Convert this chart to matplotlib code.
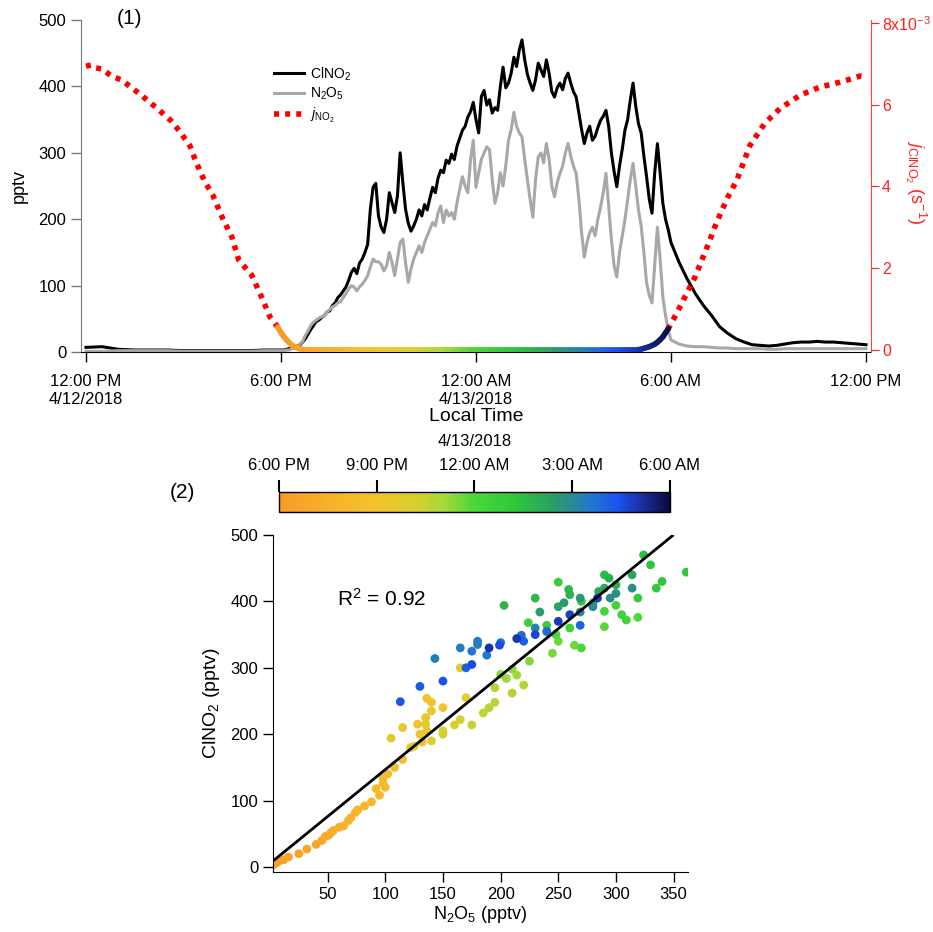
import numpy as np
import matplotlib.pyplot as plt
from matplotlib.collections import LineCollection
from matplotlib.colors import LinearSegmentedColormap, Normalize
from matplotlib.cm import ScalarMappable

plt.rcParams['font.family'] = ['Liberation Sans', 'DejaVu Sans']
plt.rcParams['mathtext.fontset'] = 'custom'
plt.rcParams['mathtext.rm'] = 'Liberation Sans'
plt.rcParams['mathtext.it'] = 'Liberation Sans:italic'
plt.rcParams['mathtext.bf'] = 'Liberation Sans:bold'

# time is in hours since 12:00 PM 4/12/2018
t_afternoon = np.arange(0, 6, 0.5)
t_night = 6 + np.arange(145) / 12.0      # 5 min steps, 6 PM - 6 AM
t_morning = 18 + np.arange(1, 25) * 0.25

clno2_afternoon = [7, 8, 4, 3, 3, 3, 2, 2, 2, 2, 2, 3]
n2o5_afternoon = [1, 1, 2, 2, 2, 2, 1, 1, 1, 1, 1, 2]

clno2_night = [
    3, 3, 4, 5, 6, 7, 9, 11, 15, 20, 27, 34,
    40, 46, 48, 52, 55, 60, 62, 70, 74, 82, 86, 92,
    98, 108, 120, 126, 118, 134, 140, 150, 162, 215, 248, 254,
    205, 188, 180, 200, 240, 225, 210, 235, 300, 255, 215, 194,
    182, 190, 200, 214, 205, 222, 214, 232, 248, 240, 262, 274,
    270, 289, 284, 298, 290, 310, 322, 334, 340, 354, 362, 376,
    350, 330, 385, 394, 372, 380, 360, 368, 364, 400, 429, 398,
    405, 420, 444, 430, 455, 470, 440, 418, 405, 394, 410, 435,
    425, 415, 440, 420, 392, 384, 398, 405, 395, 412, 420, 405,
    392, 384, 360, 335, 314, 330, 340, 319, 325, 338, 349, 355,
    364, 340, 300, 272, 249, 280, 305, 334, 350, 380, 405, 370,
    344, 330, 295, 264, 230, 209, 270, 314, 270, 224, 200, 184,
    165,
]
n2o5_night = [
    2, 2, 3, 3, 5, 6, 8, 12, 16, 25, 32, 40,
    45, 48, 51, 53, 55, 60, 64, 68, 70, 74, 76, 82,
    88, 95, 100, 98, 92, 98, 102, 108, 115, 128, 140, 136,
    136, 132, 122, 130, 150, 135, 115, 140, 165, 170, 135, 105,
    125, 140, 150, 160, 150, 165, 175, 185, 195, 190, 210, 220,
    195, 214, 205, 210, 200, 225, 245, 264, 250, 240, 290, 319,
    248, 270, 290, 300, 309, 305, 260, 224, 240, 270, 250, 280,
    319, 335, 361, 340, 330, 324, 290, 259, 230, 203, 260, 294,
    300, 285, 314, 290, 250, 234, 255, 269, 280, 300, 314, 295,
    280, 269, 230, 180, 143, 165, 180, 188, 175, 200, 218, 240,
    269, 220, 170, 130, 113, 150, 175, 199, 230, 260, 284, 250,
    214, 190, 150, 104, 85, 74, 130, 188, 140, 83, 55, 33,
    18,
]
clno2_morning = [135, 110, 88, 70, 55, 38, 28, 20, 15, 11, 10, 9,
                 10, 12, 14, 15, 15, 16, 15, 15, 14, 13, 12, 11]
n2o5_morning = [12, 9, 8, 8, 7, 6, 6, 5, 5, 5, 5, 4,
                4, 5, 5, 5, 5, 5, 5, 5, 5, 5, 5, 5]

# j values in 1e-3 s^-1
t_j_afternoon = [0, 0.15, 0.3, 0.5, 0.7, 0.85, 1.1, 1.35, 1.75, 2.2, 2.6, 2.9,
                 3.2, 3.4, 3.66, 3.9, 4.2, 4.5, 4.7, 4.83, 5.1, 5.35, 5.66, 5.9]
j_afternoon = [6.94, 6.97, 6.9, 6.87, 6.75, 6.68, 6.6, 6.45, 6.2, 5.9, 5.62, 5.33,
               4.99, 4.57, 4.11, 3.79, 3.23, 2.74, 2.2, 2.08, 1.83, 1.39, 0.81, 0.56]
j_night = ([0.42, 0.33, 0.25, 0.18, 0.12, 0.08, 0.05, 0.03, 0.01]
           + [0.0] * 123
           + [0.01, 0.02, 0.04, 0.06, 0.08, 0.11, 0.14, 0.19, 0.25, 0.32, 0.42, 0.52, 0.62])
t_j_morning = [17.9, 18.18, 18.43, 18.74, 18.95, 19.14, 19.35, 19.57, 19.75, 20.03,
               20.43, 20.89, 21.35, 21.97, 22.58, 23.2, 23.5, 23.82, 24.0]
j_morning = [0.5, 0.9, 1.30, 1.78, 2.2, 2.57, 3.01, 3.42, 3.74, 4.16,
             5.0, 5.55, 5.9, 6.23, 6.43, 6.55, 6.62, 6.7, 6.68]

time_ticks = [0, 6, 12, 18, 24]
time_labels = ['12:00 PM\n4/12/2018', '6:00 PM', '12:00 AM\n4/13/2018', '6:00 AM', '12:00 PM']
cbar_ticks = [6, 9, 12, 15, 18]
cbar_labels = ['6:00 PM', '9:00 PM', '12:00 AM', '3:00 AM', '6:00 AM']

colored_end = 17.92
scatter_end = 17.1
fit_slope = 1.414
fit_intercept = 5.4
fit_x = [3.7, 349]
r2_text = 'R$^2$ = 0.92'

cmap = LinearSegmentedColormap.from_list('night', [
    (0.0, '#f79a28'), (0.12, '#f8b02a'), (0.25, '#f2c42a'), (0.35, '#d8d02e'),
    (0.42, '#a8d83a'), (0.5, '#48d838'), (0.6, '#30c83a'), (0.68, '#2aa858'),
    (0.74, '#2a8e88'), (0.8, '#2078d0'), (0.87, '#1a50f0'), (0.93, '#1a30a0'),
    (1.0, '#0a0a40')])
norm = Normalize(6, 18)
red = '#ff2020'
dots = (0, (0.9, 1.1))

fig = plt.figure(figsize=(9.33, 9.32), dpi=100)

# ---- panel (1): time series ----
ax = fig.add_axes([0.0868, 0.6223, 0.8467, 0.3562])
t_all = np.concatenate([t_afternoon, t_night, t_morning])
clno2_all = np.concatenate([clno2_afternoon, clno2_night, clno2_morning])
n2o5_all = np.concatenate([n2o5_afternoon, n2o5_night, n2o5_morning])
l1, = ax.plot(t_all, clno2_all, color='black', lw=2.2, label='ClNO$_2$')
l2, = ax.plot(t_all, n2o5_all, color='#a8a8a8', lw=2.2, label='N$_2$O$_5$')
ax.set_xlim(-0.154, 24.154)
ax.set_ylim(0, 500)
ax.set_xticks(time_ticks)
ax.set_xticklabels(time_labels)
ax.set_yticks([0, 100, 200, 300, 400, 500])
ax.tick_params(labelsize=12, length=7, width=1)
ax.tick_params(axis='x', pad=9)
ax.spines['top'].set_visible(False)
ax.spines['right'].set_visible(False)
ax.spines['left'].set_color('#777777')
ax.tick_params(axis='y', color='#777777')
ax.set_ylabel('pptv', fontsize=13, labelpad=8)
ax.set_xlabel('Local Time', fontsize=14, labelpad=1)

ax2 = ax.twinx()
ax2.set_ylim(-0.05e-3, 8.07e-3)
for s in ['top', 'left', 'bottom']:
    ax2.spines[s].set_visible(False)
ax2.spines['right'].set_color('#ff4040')
ax2.set_yticks([0, 2e-3, 4e-3, 6e-3, 8e-3])
ax2.set_yticklabels(['0', '2', '4', '6', '8x10$^{-3}$'])
ax2.tick_params(axis='y', colors=red, labelsize=11.5, length=6, pad=2)
fig.text(916 / 933, 1 - 182 / 932, r'$j_{\mathrm{ClNO_2}}$ (s$^{-1}$)', color=red,
         fontsize=13, rotation=270, ha='center', va='center')

l3, = ax2.plot(t_j_afternoon, np.array(j_afternoon) * 1e-3, color='red', lw=4,
               ls=dots, dash_capstyle='butt', label=r'$j_{\mathrm{NO_2}}$')
ax2.plot(t_j_morning, np.array(j_morning) * 1e-3, color='red', lw=4,
         ls=dots, dash_capstyle='butt')

# night part of j drawn in the time colours
keep = np.array(t_night) <= colored_end
t_col = np.concatenate([t_j_afternoon[-1:], np.array(t_night)[keep]])
j_col = np.concatenate([j_afternoon[-1:], np.array(j_night)[keep]]) * 1e-3
pts = np.column_stack([t_col, j_col]).reshape(-1, 1, 2)
segs = np.concatenate([pts[:-1], pts[1:]], axis=1)
lc = LineCollection(segs, cmap=cmap, norm=norm, linewidths=4, capstyle='round')
lc.set_array(0.5 * (t_col[:-1] + t_col[1:]))
ax2.add_collection(lc)

ax.legend(handles=[l1, l2, l3], loc='upper left', bbox_to_anchor=(0.235, 0.885),
          frameon=False, fontsize=10, handlelength=2.2, handletextpad=0.4,
          labelspacing=0.25, borderpad=0)

fig.text(130 / 933, 1 - 18 / 932, '(1)', fontsize=15, ha='center', va='center')
fig.text(182 / 933, 1 - 492 / 932, '(2)', fontsize=15, ha='center', va='center')

# ---- colour bar ----
cax = fig.add_axes([279 / 933, 1 - 512 / 932, 391 / 933, 20 / 932])
cb = fig.colorbar(ScalarMappable(norm=norm, cmap=cmap), cax=cax,
                  orientation='horizontal', ticklocation='top')
cb.set_ticks(cbar_ticks)
cb.set_ticklabels(cbar_labels)
cb.outline.set_linewidth(1)
cax.tick_params(length=9, width=1.5, labelsize=12, pad=5)
cax.text(0.5, 3.55, '4/13/2018', transform=cax.transAxes, ha='center', va='center', fontsize=12)

# ---- panel (2): scatter ----
ax3 = fig.add_axes([273 / 933, 1 - 872 / 932, 415 / 933, 337 / 932])
t_n = np.array(t_night)
mask = t_n <= scatter_end
ax3.scatter(np.array(n2o5_night)[mask], np.array(clno2_night)[mask], c=t_n[mask],
            cmap=cmap, norm=norm, s=40, edgecolors='none', zorder=2)
fx = np.array(fit_x)
ax3.plot(fx, fit_slope * fx + fit_intercept, color='black', lw=2, zorder=3)
ax3.set_xlim(2.6, 362.5)
ax3.set_ylim(-7.5, 500)
ax3.set_xticks([50, 100, 150, 200, 250, 300, 350])
ax3.set_yticks([0, 100, 200, 300, 400, 500])
ax3.spines['top'].set_visible(False)
ax3.spines['right'].set_visible(False)
ax3.tick_params(labelsize=12, length=7, width=1)
ax3.text(58, 393, r2_text, fontsize=15)
ax3.set_xlabel('N$_2$O$_5$ (pptv)', fontsize=13, labelpad=2)
ax3.set_ylabel('ClNO$_2$ (pptv)', fontsize=14, labelpad=6)

fig.savefig('out.png', dpi=100)
